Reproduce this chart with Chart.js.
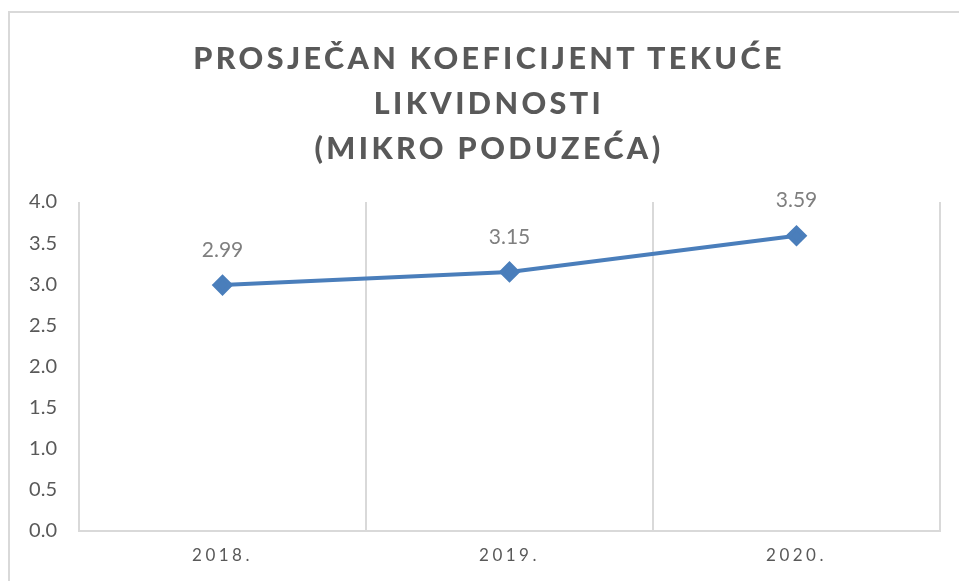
<!DOCTYPE html>
<html>
<head>
<meta charset="utf-8">
<script src="https://cdn.jsdelivr.net/npm/chart.js@4/dist/chart.umd.min.js"></script>
<style>
  html, body { margin: 0; padding: 0; background: #fff; overflow: hidden; }
  #frame { position: absolute; left: 8px; top: 11px; width: 1000px; height: 620px; border: 2px solid #d9d9d9; box-sizing: border-box; }
  #title { position: absolute; left: 0; width: 978px; top: 35px; text-align: center; font-family: Lato, sans-serif; font-weight: 900; font-size: 30.5px; line-height: 45px; letter-spacing: 3.4px; color: #595959; }
  #wrap { position: absolute; left: 0; top: 0; width: 959px; height: 581px; }
</style>
</head>
<body>
<div id="frame"></div>
<div id="wrap"><canvas id="myChart"></canvas></div>
<div id="title">PROSJEČAN KOEFICIJENT TEKUĆE<br>LIKVIDNOSTI<br>(MIKRO PODUZEĆA)</div>
<script>
const years= ['2018.', '2019.', '2020.']
const ratio= [2.99, 3.15, 3.59]

const grey= '#595959'

// value labels above the points, then turn on letter spacing for the x labels
const valueLabels= {
    id: 'valueLabels',
    beforeDraw(chart){
        chart.ctx.letterSpacing= '0px'
    },
    afterDatasetsDraw(chart){
        const ctx= chart.ctx
        const meta= chart.getDatasetMeta(0)
        ctx.save()
        ctx.font= '21px Lato, sans-serif'
        ctx.fillStyle= '#7f7f7f'
        ctx.textAlign= 'center'
        ctx.textBaseline= 'middle'
        meta.data.forEach((pt, i) => {
            ctx.fillText(ratio[i].toFixed(2), pt.x, pt.y - 35)
        })
        ctx.restore()
        ctx.letterSpacing= '3.5px'
    },
    afterDraw(chart){
        chart.ctx.letterSpacing= '0px'
    }
}

var chart = new Chart(document.getElementById('myChart'), {
    type: 'line',
    data: {
        labels: years,
        datasets: [
            {
                data: ratio,
                borderColor: '#4a7ebb',
                backgroundColor: '#4a7ebb',
                borderWidth: 4,
                pointStyle: 'rectRot',
                pointRadius: 8,
                pointHoverRadius: 8,
                tension: 0
            }
        ]
    },
    options: {
        responsive: true,
        maintainAspectRatio: false,
        animation: false,
        layout: { padding: { left: 0, right: 19, top: 202, bottom: 0 } },
        plugins: {
            legend: { display: false },
            tooltip: { enabled: false }
        },
        scales: {
            x: {
                offset: true,
                grid: { offset: true, color: '#d9d9d9', lineWidth: 2, drawTicks: false },
                border: { color: '#d9d9d9', width: 2 },
                ticks: { z: 1, color: grey, padding: 14, font: { family: 'Lato', size: 17 } },
                afterFit(scale){ scale.height= 50 }
            },
            y: {
                min: 0,
                max: 4,
                grid: { display: false },
                border: { display: false },
                ticks: {
                    stepSize: 0.5,
                    color: grey,
                    padding: 14,
                    font: { family: 'Lato', size: 20 },
                    callback: (v) => v.toFixed(1)
                },
                afterFit(scale){ scale.width= 79 }
            }
        }
    },
    plugins: [valueLabels]
})
</script>
</body>
</html>
